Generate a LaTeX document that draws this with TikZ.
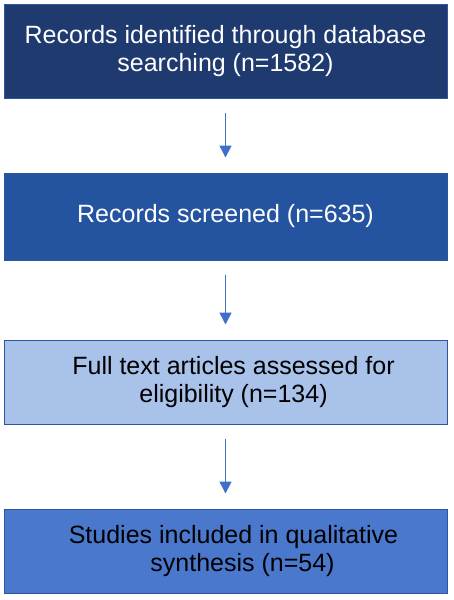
\documentclass[tikz,border=0pt]{standalone}
\usepackage{fontspec}
\setmainfont{Liberation Sans}
\usepackage{tikz}
\usetikzlibrary{arrows.meta}
\definecolor{navybox}{HTML}{1F3A6E}
\definecolor{midbox}{HTML}{2453A0}
\definecolor{palebox}{HTML}{A9C2EA}
\definecolor{brightbox}{HTML}{4A78CD}
\definecolor{edgeblue}{HTML}{2F55A0}
\definecolor{arrowblue}{HTML}{3F6FCB}
\tikzstyle{block} = [draw=edgeblue, line width=1pt, rectangle,
    minimum width=443pt, align=center,
    font=\fontsize{25}{28}\selectfont]
\tikzstyle{flow} = [draw=arrowblue, line width=1.5pt,
    -{Triangle[width=12pt,length=12pt]},
    shorten <=14pt, shorten >=15pt]

\begin{document}
\begin{tikzpicture}[node distance=166pt]
    \useasboundingbox (0,0) rectangle (453pt,-600pt);
    % % % % % % % % % % % % % % % % % % % % % % %
    % Stages
    % % % % % % % % % % % % % % % % % % % % % % %
    % Identification
    \node [block, fill=navybox, text=white, minimum height=94pt]
        at (225.5pt,-51pt) (ident) {Records identified through database\\searching (n=1582)};

    % Screening
    \node [block, fill=midbox, text=white, minimum height=87pt,
        below of=ident, node distance=165.5pt] (screen) {Records screened (n=635)};

    % Eligibility
    \node [block, fill=palebox, text=black, minimum height=84pt,
        below of=screen, node distance=165.5pt] (elig) {\hspace*{16pt}Full text articles assessed for\\\hspace*{16pt}eligibility (n=134)};

    % Included
    \node [block, fill=brightbox, text=black, minimum height=84pt,
        below of=elig, node distance=169pt] (incl) {\hspace*{16pt}Studies included in qualitative\\\hspace*{34pt}synthesis (n=54)};

    % Connect the stages
    \draw [flow] (ident) -- (screen);
    \draw [flow] (screen) -- (elig);
    \draw [flow] (elig) -- (incl);
\end{tikzpicture}
\end{document}
